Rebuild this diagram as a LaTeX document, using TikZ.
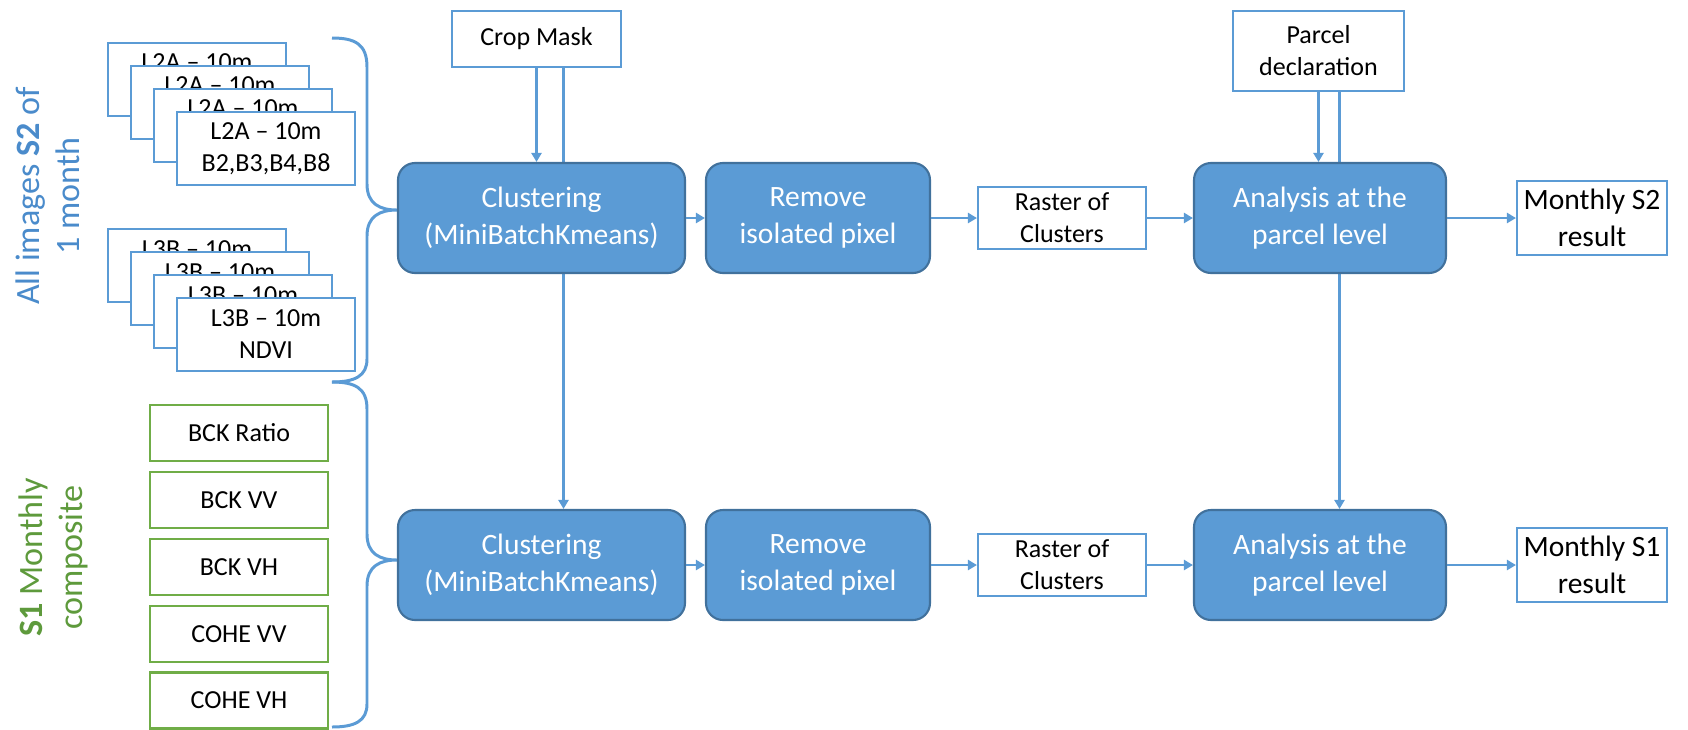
\documentclass[tikz,border=0pt]{standalone}
\usepackage{fontspec}
\setmainfont{Carlito}
\usepackage{tikz}
\usetikzlibrary{arrows.meta, positioning, backgrounds}
\definecolor{s2blue}{HTML}{5B9BD5}
\definecolor{procedge}{HTML}{41719C}
\definecolor{s1green}{HTML}{70AD47}
\definecolor{s1text}{HTML}{5E9A3C}
\definecolor{s2text}{HTML}{4A8BCB}

\begin{document}
\begin{tikzpicture}[
    inbox/.style={rectangle, draw=#1, fill=white, line width=0.6pt, align=center,
                  inner sep=0pt, font=\fontsize{7.4}{9.1}\selectfont},
    inbox/.default=s2blue,
    stackbox/.style={inbox, minimum width=1.78cm, minimum height=0.73cm},
    s1box/.style={inbox=s1green, minimum width=1.78cm, minimum height=0.56cm},
    procbox/.style={rectangle, draw=procedge, fill=s2blue, line width=0.6pt,
                    rounded corners=0.17cm, text=white, align=center, inner sep=0pt,
                    minimum height=1.10cm, font=\fontsize{8.4}{10.5}\selectfont},
    resultbox/.style={inbox, minimum width=1.50cm, minimum height=0.74cm,
                      font=\fontsize{8.4}{10.5}\selectfont},
    sidelabel/.style={rotate=90, align=center, font=\fontsize{9.7}{11.4}\selectfont},
    arrow/.style={-{Triangle[length=0.09cm, width=0.1cm]}, line width=0.8pt, s2blue},
    bracepath/.style={line width=0.85pt, s2blue}
]
\useasboundingbox (0,0) rectangle (16.88,7.29);

% Side labels
\node[sidelabel, text=s2text] at (0.48,5.33) (s2label) {All images \textbf{S2} of\\1 month};
\node[sidelabel, text=s1text] at (0.53,1.715) (s1label) {\textbf{S1} Monthly\\composite};

% S2 image stacks
\node[stackbox] at (1.97,6.495) (l2a1) {L2A -- 10m\\B2,B3,B4,B8};
\node[stackbox] at (2.20,6.265) (l2a2) {L2A -- 10m\\B2,B3,B4,B8};
\node[stackbox] at (2.43,6.035) (l2a3) {L2A -- 10m\\B2,B3,B4,B8};
\node[stackbox] at (2.66,5.805) (l2a4) {L2A -- 10m\\B2,B3,B4,B8};

\node[stackbox] at (1.97,4.635) (l3b1) {L3B -- 10m\\NDVI};
\node[stackbox] at (2.20,4.405) (l3b2) {L3B -- 10m\\NDVI};
\node[stackbox] at (2.43,4.175) (l3b3) {L3B -- 10m\\NDVI};
\node[stackbox] at (2.66,3.945) (l3b4) {L3B -- 10m\\NDVI};

% S1 composites
\node[s1box] at (2.39,2.96) (bckratio) {BCK Ratio};
\node[s1box] at (2.39,2.29) (bckvv) {BCK VV};
\node[s1box] at (2.39,1.62) (bckvh) {BCK VH};
\node[s1box] at (2.39,0.95) (cohevv) {COHE VV};
\node[s1box] at (2.39,0.285) (cohevh) {COHE VH};

% Braces
\draw[bracepath] (3.32,6.91) .. controls (3.55,6.91) and (3.67,6.85) .. (3.67,6.62)
    -- (3.67,5.45) .. controls (3.67,5.25) and (3.80,5.19) .. (3.97,5.19)
    .. controls (3.80,5.19) and (3.67,5.13) .. (3.67,4.93)
    -- (3.67,3.70) .. controls (3.67,3.53) and (3.55,3.47) .. (3.32,3.47);
\draw[bracepath] (3.32,3.47) .. controls (3.55,3.47) and (3.67,3.41) .. (3.67,3.20)
    -- (3.67,1.95) .. controls (3.67,1.75) and (3.80,1.69) .. (3.97,1.69)
    .. controls (3.80,1.69) and (3.67,1.63) .. (3.67,1.43)
    -- (3.67,0.25) .. controls (3.67,0.08) and (3.55,0.02) .. (3.32,0.02);

% Inputs on top
\node[inbox, minimum width=1.69cm, minimum height=0.56cm] at (5.365,6.90) (crop) {Crop Mask};
\node[inbox, minimum width=1.71cm, minimum height=0.80cm] at (13.185,6.78) (parcel)
    {Parcel\\declaration};

% S2 row
\node[procbox, minimum width=2.87cm] at (5.415,5.11) (clust1) {Clustering\\(MiniBatchKmeans)};
\node[procbox, minimum width=2.24cm] at (8.18,5.11) (rem1) {Remove\\isolated pixel};
\node[inbox, minimum width=1.68cm, minimum height=0.62cm] at (10.62,5.11) (raster1)
    {Raster of\\Clusters};
\node[procbox, minimum width=2.52cm] at (13.2,5.11) (ana1) {Analysis at the\\parcel level};
\node[resultbox] at (15.92,5.11) (res2) {Monthly S2\\result};

% S1 row
\node[procbox, minimum width=2.87cm] at (5.415,1.64) (clust2) {Clustering\\(MiniBatchKmeans)};
\node[procbox, minimum width=2.24cm] at (8.18,1.64) (rem2) {Remove\\isolated pixel};
\node[inbox, minimum width=1.68cm, minimum height=0.62cm] at (10.62,1.64) (raster2)
    {Raster of\\Clusters};
\node[procbox, minimum width=2.52cm] at (13.2,1.64) (ana2) {Analysis at the\\parcel level};
\node[resultbox] at (15.92,1.64) (res1) {Monthly S1\\result};

% Arrows
\begin{scope}[on background layer]
\draw[arrow] ([xshift=2.7mm]crop.south) -- ([xshift=2.7mm]crop.south |- clust2.north);
\draw[arrow] ([xshift=2.1mm]parcel.south) -- ([xshift=2.1mm]parcel.south |- ana2.north);
\end{scope}
\draw[arrow] (crop.south) -- (crop.south |- clust1.north);
\draw[arrow] (parcel.south) -- (parcel.south |- ana1.north);

\draw[arrow] (clust1) -- (rem1);
\draw[arrow] (rem1) -- (raster1);
\draw[arrow] (raster1) -- (ana1);
\draw[arrow] (ana1) -- (res2);

\draw[arrow] (clust2) -- (rem2);
\draw[arrow] (rem2) -- (raster2);
\draw[arrow] (raster2) -- (ana2);
\draw[arrow] (ana2) -- (res1);

\end{tikzpicture}
\end{document}
